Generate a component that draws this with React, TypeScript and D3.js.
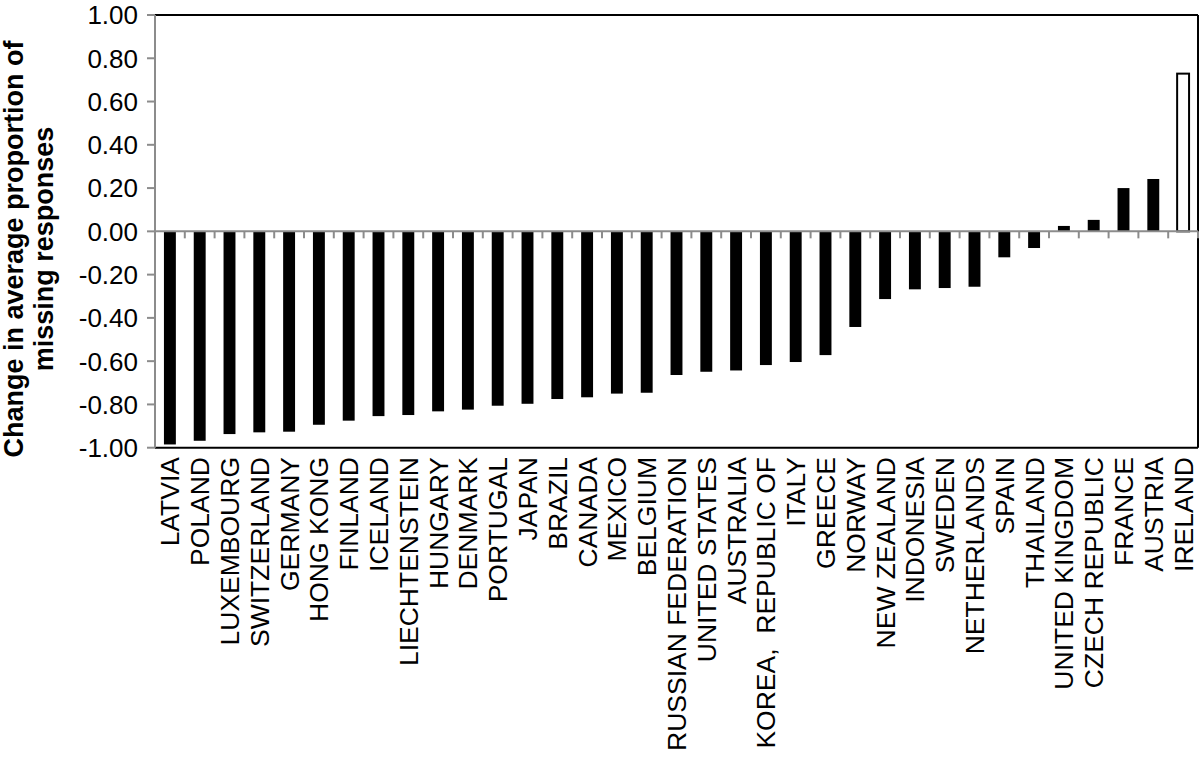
import React from "react";
import { scaleBand, scaleLinear, range } from "d3";

// country order as in the chart (left -> right)
const countries = [
  "LATVIA", "POLAND", "LUXEMBOURG", "SWITZERLAND", "GERMANY", "HONG KONG",
  "FINLAND", "ICELAND", "LIECHTENSTEIN", "HUNGARY", "DENMARK", "PORTUGAL",
  "JAPAN", "BRAZIL", "CANADA", "MEXICO", "BELGIUM", "RUSSIAN FEDERATION",
  "UNITED STATES", "AUSTRALIA", "KOREA,  REPUBLIC OF", "ITALY", "GREECE",
  "NORWAY", "NEW ZEALAND", "INDONESIA", "SWEDEN", "NETHERLANDS", "SPAIN",
  "THAILAND", "UNITED KINGDOM", "CZECH REPUBLIC", "FRANCE", "AUSTRIA", "IRELAND",
];

// change in average proportion of missing responses
const changes = [
  -0.985, -0.968, -0.937, -0.929, -0.926, -0.894,
  -0.875, -0.854, -0.849, -0.832, -0.824, -0.806,
  -0.797, -0.775, -0.767, -0.75, -0.746, -0.664,
  -0.649, -0.643, -0.618, -0.604, -0.572,
  -0.442, -0.313, -0.268, -0.262, -0.256, -0.12,
  -0.077, 0.025, 0.053, 0.2, 0.242, 0.729,
];

// the one bar drawn hollow
const highlighted = ["IRELAND"];

const yTicks = [-1, -0.8, -0.6, -0.4, -0.2, 0, 0.2, 0.4, 0.6, 0.8, 1];

export default function App() {
  const width = 1200;
  const height = 758;
  const left = 155;
  const right = 1198;
  const top = 15;
  const bottom = 447.7;
  const font = "'Liberation Sans', Arial, Helvetica, sans-serif";
  const grey = "#8c8c8c";

  const x = scaleBand().domain(countries).range([left, right]).paddingInner(0.6).paddingOuter(0.3);
  const band = scaleBand().domain(countries).range([left, right]);
  const y = scaleLinear().domain([-1, 1]).range([bottom, top]);
  const y0 = y(0);

  return (
    <svg
      width={width}
      height={height}
      style={{ position: "absolute", left: 0, top: 0, background: "#fff" }}
      fontFamily={font}
    >
      {/* y axis title */}
      <g transform={`translate(0, 249) rotate(-90)`}>
        <text x={0} y={23} textAnchor="middle" fontSize={27} fontWeight="bold">
          Change in average proportion of
        </text>
        <text x={0} y={53} textAnchor="middle" fontSize={27} fontWeight="bold">
          missing responses
        </text>
      </g>

      {/* frame */}
      <line x1={left} x2={right} y1={top} y2={top} stroke="#000" strokeWidth={2} />
      <line x1={right} x2={right} y1={top} y2={bottom} stroke="#000" strokeWidth={2} />
      <line x1={left} x2={right} y1={bottom} y2={bottom} stroke="#000" strokeWidth={2} />

      {/* bars */}
      {countries.map((c, i) => {
        const v = changes[i];
        const hollow = highlighted.includes(c);
        return (
          <rect
            key={c}
            x={x(c)}
            width={x.bandwidth()}
            y={Math.min(y(v), y0)}
            height={Math.abs(y(v) - y0)}
            fill={hollow ? "#fff" : "#000"}
            stroke={hollow ? "#000" : "none"}
            strokeWidth={2}
          />
        );
      })}

      {/* left axis + ticks */}
      <line x1={left} x2={left} y1={top} y2={bottom} stroke={grey} strokeWidth={2} />
      {yTicks.map((t) => (
        <g key={t}>
          <line x1={left - 8} x2={left} y1={y(t)} y2={y(t)} stroke={grey} strokeWidth={2} />
          <text x={138} y={y(t)} dy="0.36em" textAnchor="end" fontSize={26} fill="#000">
            {t.toFixed(2)}
          </text>
        </g>
      ))}

      {/* zero line with category ticks */}
      <line x1={left} x2={right} y1={y0} y2={y0} stroke={grey} strokeWidth={2} />
      {range(1, countries.length + 1).map((i) => {
        const bx = left + band.step() * i;
        return <line key={i} x1={bx} x2={bx} y1={y0} y2={y0 + 7} stroke={grey} strokeWidth={2} />;
      })}

      {/* category labels */}
      {countries.map((c) => {
        const cx = (band(c) as number) + band.bandwidth() / 2;
        return (
          <text
            key={c}
            transform={`translate(${cx}, 457) rotate(-90)`}
            dy="0.36em"
            textAnchor="end"
            fontSize={26.5}
            fill="#000"
            style={{ whiteSpace: "pre" }}
          >
            {c}
          </text>
        );
      })}
    </svg>
  );
}
